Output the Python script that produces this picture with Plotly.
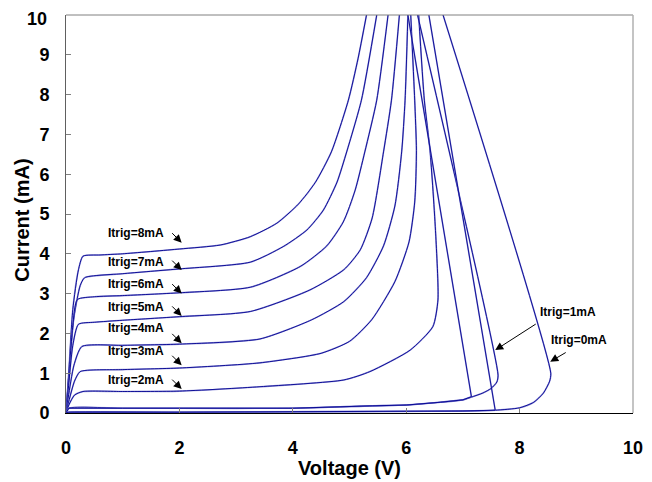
import plotly.graph_objects as go

# ---- data ----
v_8mA = [0, 0.04, 0.12, 0.22, 0.30, 0.6, 1.0, 2.0, 2.72, 3.25, 3.72, 4.10, 4.40, 4.68, 4.98, 5.15, 5.30]
i_8mA = [0, 0.8, 2.6, 3.6, 3.94, 3.97, 4.0, 4.12, 4.22, 4.43, 4.77, 5.25, 5.80, 6.56, 7.86, 8.9, 10]

v_7mA = [0, 0.04, 0.14, 0.25, 0.33, 1.0, 2.0, 3.25, 3.83, 4.25, 4.54, 4.78, 4.95, 5.21, 5.48]
i_7mA = [0, 0.8, 2.4, 3.2, 3.40, 3.5, 3.62, 3.79, 4.18, 4.6, 5.1, 5.8, 6.56, 7.86, 10]

v_6mA = [0, 0.04, 0.12, 0.20, 0.5, 1.0, 2.0, 3.25, 4.13, 4.6, 4.89, 5.1, 5.27, 5.48, 5.68]
i_6mA = [0, 0.7, 2.2, 2.85, 2.92, 2.95, 3.02, 3.16, 3.68, 4.2, 4.8, 5.6, 6.56, 7.86, 10]

v_5mA = [0, 0.04, 0.12, 0.22, 0.5, 1.0, 2.0, 3.25, 4.3, 4.9, 5.19, 5.4, 5.6, 5.74, 5.88]
i_5mA = [0, 0.6, 1.7, 2.23, 2.28, 2.33, 2.42, 2.55, 3.09, 3.6, 4.1, 4.9, 6.56, 7.86, 10]

v_4mA = [0, 0.04, 0.14, 0.28, 1.0, 2.0, 3.42, 4.33, 4.9, 5.3, 5.6, 5.8, 5.92, 5.98, 6.03]
i_4mA = [0, 0.4, 1.2, 1.67, 1.70, 1.73, 1.86, 2.34, 2.8, 3.4, 4.2, 5.2, 6.56, 7.86, 10]

v_3mA = [0, 0.05, 0.15, 0.25, 1.0, 2.0, 3.42, 4.5, 5.0, 5.39, 5.8, 6.05, 6.15, 6.18, 6.15, 6.08]
i_3mA = [0, 0.3, 0.8, 1.04, 1.09, 1.13, 1.26, 1.5, 1.8, 2.34, 3.3, 4.3, 5.3, 6.6, 7.86, 10]

v_2mA = [0, 0.05, 0.15, 0.3, 1.0, 2.0, 3.42, 4.9, 5.36, 6.07, 6.47, 6.56, 6.52, 6.42, 6.32, 6.22]
i_2mA = [0, 0.2, 0.45, 0.54, 0.54, 0.55, 0.66, 0.83, 1.04, 1.58, 2.17, 2.84, 4.5, 6.6, 7.86, 10]

v_1mA_a = [0, 0.05, 1.0, 2.0, 4.0, 5.4, 6.0, 6.6, 7.0, 7.15, 7.35, 7.5, 7.6, 7.62, 6.2]
i_1mA_a = [0, 0.12, 0.12, 0.12, 0.12, 0.18, 0.2, 0.27, 0.33, 0.4, 0.5, 0.62, 0.78, 0.95, 10]
v_1mA_b = [0, 0.05, 1.0, 2.0, 4.0, 5.4, 6.0, 6.6, 7.0, 7.15, 6.03]
i_1mA_b = [0, 0.12, 0.12, 0.12, 0.12, 0.18, 0.2, 0.27, 0.33, 0.41, 10]

v_0mA_a = [0, 0.05, 2.0, 4.0, 6.0, 7.0, 7.57, 8.0, 8.25, 8.42, 8.53, 8.55, 6.65]
i_0mA_a = [0, 0.02, 0.02, 0.03, 0.04, 0.05, 0.07, 0.13, 0.27, 0.5, 0.8, 1.0, 10]
v_0mA_b = [0, 0.05, 2.0, 4.0, 6.0, 7.0, 7.57, 6.4]
i_0mA_b = [0, 0.02, 0.02, 0.03, 0.04, 0.05, 0.07, 10]

curves = [
    (v_8mA, i_8mA, "spline"), (v_7mA, i_7mA, "spline"), (v_6mA, i_6mA, "spline"),
    (v_5mA, i_5mA, "spline"), (v_4mA, i_4mA, "spline"), (v_3mA, i_3mA, "spline"),
    (v_2mA, i_2mA, "spline"), (v_1mA_a, i_1mA_a, "spline"), (v_1mA_b, i_1mA_b, "linear"),
    (v_0mA_a, i_0mA_a, "spline"), (v_0mA_b, i_0mA_b, "linear"),
]

label_texts = ["Itrig=8mA", "Itrig=7mA", "Itrig=6mA", "Itrig=5mA", "Itrig=4mA", "Itrig=3mA", "Itrig=2mA"]
label_v = [1.23] * 7
label_i = [4.52, 3.80, 3.24, 2.67, 2.13, 1.55, 0.83]
arrow_v = [2.04] * 7
arrow_i = [4.28, 3.59, 3.00, 2.44, 1.75, 1.20, 0.60]

low_texts = ["Itrig=1mA", "Itrig=0mA"]
low_label_v = [8.85, 9.05]
low_label_i = [2.55, 1.83]
low_arrow_v = [7.57, 8.54]
low_arrow_i = [1.58, 1.29]
low_arrow_dx = [42, 17]
low_arrow_dy = [-27, -10]

x_ticks = [0, 2, 4, 6, 8, 10]
y_ticks = [0, 1, 2, 3, 4, 5, 6, 7, 8, 9, 10]
y_tick_text = ["0", "1", "2", "3", "4", "5", "6", "7", "8", "9", ""]
y_top_label = "10"

fig = go.Figure()
for v, i, shp in curves:
    fig.add_trace(go.Scatter(x=v, y=i, mode="lines",
                             line=dict(color="rgba(125,125,210,0.75)", width=1.6, shape=shp, smoothing=0.6),
                             hoverinfo="skip", showlegend=False))
    fig.add_trace(go.Scatter(x=v, y=i, mode="lines",
                             line=dict(color="#000090", width=0.9, shape=shp, smoothing=0.6),
                             showlegend=False))

anns = []
lab_font = dict(family="Liberation Sans", size=12, color="black")
for t, lx, ly, axv, ayi in zip(label_texts, label_v, label_i, arrow_v, arrow_i):
    anns.append(dict(x=lx, y=ly, xref="x", yref="y", text="<b>%s</b>" % t, showarrow=False, font=lab_font))
    anns.append(dict(x=axv, y=ayi, xref="x", yref="y", text="", showarrow=True, ax=-11, ay=-11,
                     arrowhead=2, arrowsize=1.6, arrowwidth=1, arrowcolor="black"))
for t, lx, ly, axv, ayi, dx, dy in zip(low_texts, low_label_v, low_label_i, low_arrow_v, low_arrow_i,
                                       low_arrow_dx, low_arrow_dy):
    anns.append(dict(x=lx, y=ly, xref="x", yref="y", text="<b>%s</b>" % t, showarrow=False, font=lab_font))
    anns.append(dict(x=axv, y=ayi, xref="x", yref="y", text="", showarrow=True, ax=dx, ay=dy,
                     arrowhead=2, arrowsize=1.6, arrowwidth=1, arrowcolor="black"))

title_font = dict(family="Liberation Sans", size=20, color="black")
anns.append(dict(x=0.5, y=-0.138, xref="paper", yref="paper", text="<b>Voltage (V)</b>", showarrow=False,
                 font=title_font, xanchor="center", yanchor="middle"))
anns.append(dict(x=-0.078, y=0.485, xref="paper", yref="paper", text="<b>Current (mA)</b>", showarrow=False,
                 font=title_font, textangle=-90, xanchor="center", yanchor="middle"))

tick_font = dict(family="Liberation Sans", size=18, color="black", weight="bold")
# top y tick label placed as text so it is not dropped at the figure edge
anns.append(dict(x=-0.03, y=y_ticks[-1], xref="paper", yref="y", text="<b>%s</b>" % y_top_label,
                 showarrow=False, font=dict(family="Liberation Sans", size=18, color="black"),
                 xanchor="right", yanchor="top", yshift=8))

# page body has an 8px margin: figure is sized so the plot area lands where the reference's does
fig.update_layout(
    width=644, height=474,
    margin=dict(l=58, r=19, t=7, b=69),
    paper_bgcolor="white", plot_bgcolor="white",
    annotations=anns,
    shapes=[
        dict(type="line", xref="paper", yref="paper", x0=0, x1=1, y0=1, y1=1, line=dict(color="#808080", width=1)),
        dict(type="line", xref="paper", yref="paper", x0=1, x1=1, y0=0, y1=1, line=dict(color="#b0b0b0", width=1.5)),
    ],
    xaxis=dict(range=[0, 10], tickvals=x_ticks, ticks="inside", ticklen=5, tickcolor="#808080",
               showline=True, linecolor="black", linewidth=1, showgrid=False, zeroline=False,
               tickfont=tick_font, ticklabelstandoff=18, automargin=False),
    yaxis=dict(range=[0, 10], tickvals=y_ticks, ticktext=y_tick_text, ticks="inside", ticklen=5,
               tickcolor="#808080",
               showline=True, linecolor="#606060", linewidth=1, showgrid=False, zeroline=False,
               tickfont=tick_font, ticklabelstandoff=12, automargin=False),
)

fig.write_html("out.html")
